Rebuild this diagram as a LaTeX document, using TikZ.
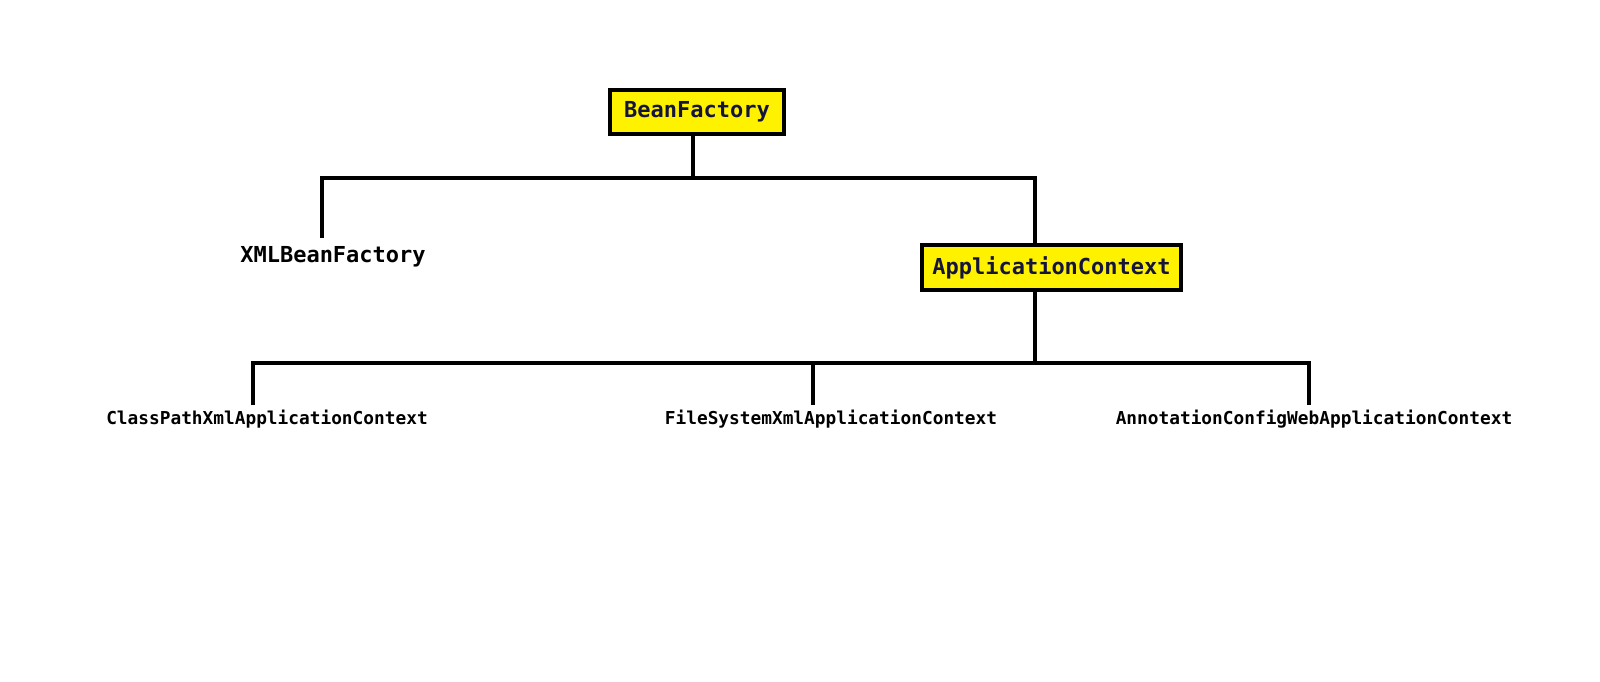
\documentclass[tikz,border=0pt]{standalone}
\usepackage{fontspec}
\setmonofont{DejaVu Sans Mono}
\definecolor{boxyellow}{RGB}{255,242,0}
\definecolor{boxtext}{RGB}{20,20,60}
\begin{document}
\begin{tikzpicture}[x=0.5pt,y=-0.5pt,
  conn/.style={draw=black,line width=2pt,line join=miter},
  classbox/.style={draw=black,line width=2pt,fill=boxyellow,text=boxtext,
    font=\ttfamily\bfseries\fontsize{11}{13}\selectfont,inner sep=0pt,anchor=center},
  biglabel/.style={font=\ttfamily\bfseries\fontsize{11}{13}\selectfont,inner sep=0pt,text=black},
  smalllabel/.style={font=\ttfamily\bfseries\fontsize{8.9}{11}\selectfont,inner sep=0pt,text=black}]
\useasboundingbox (0,0) rectangle (1600,681);
\fill[white] (0,0) rectangle (1600,681);
% nodes
\node[classbox,minimum width=87pt,minimum height=22pt] (bf) at (697,112) {BeanFactory};
\node[classbox,minimum width=129.5pt,minimum height=22.5pt] (ac) at (1051.5,267.5) {ApplicationContext};
\node[biglabel] (xml) at (333,257) {XMLBeanFactory};
\node[smalllabel] (cp) at (267,419) {ClassPathXmlApplicationContext};
\node[smalllabel] (fs) at (831,419) {FileSystemXmlApplicationContext};
\node[smalllabel] (an) at (1314,419) {AnnotationConfigWebApplicationContext};
% junctions
\coordinate (j1) at (693,178);
\coordinate (jL) at (322,178);
\coordinate (jR) at (1035,178);
\coordinate (xmlTop) at (322,238);
\coordinate (j2) at (1035,363);
\coordinate (kL) at (253,363);
\coordinate (kM) at (813,363);
\coordinate (kR) at (1309,363);
\coordinate (cpTop) at (253,405);
\coordinate (fsTop) at (813,405);
\coordinate (anTop) at (1309,405);
% connectors
\draw[conn] (bf.south -| j1) -- (j1);
\draw[conn] (xmlTop) -- (jL) -- (jR) -- (jR |- ac.north);
\draw[conn] (ac.south -| j2) -- (j2);
\draw[conn] (cpTop) -- (kL) -- (kR) -- (anTop);
\draw[conn] (kM) -- (fsTop);
\end{tikzpicture}
\end{document}
